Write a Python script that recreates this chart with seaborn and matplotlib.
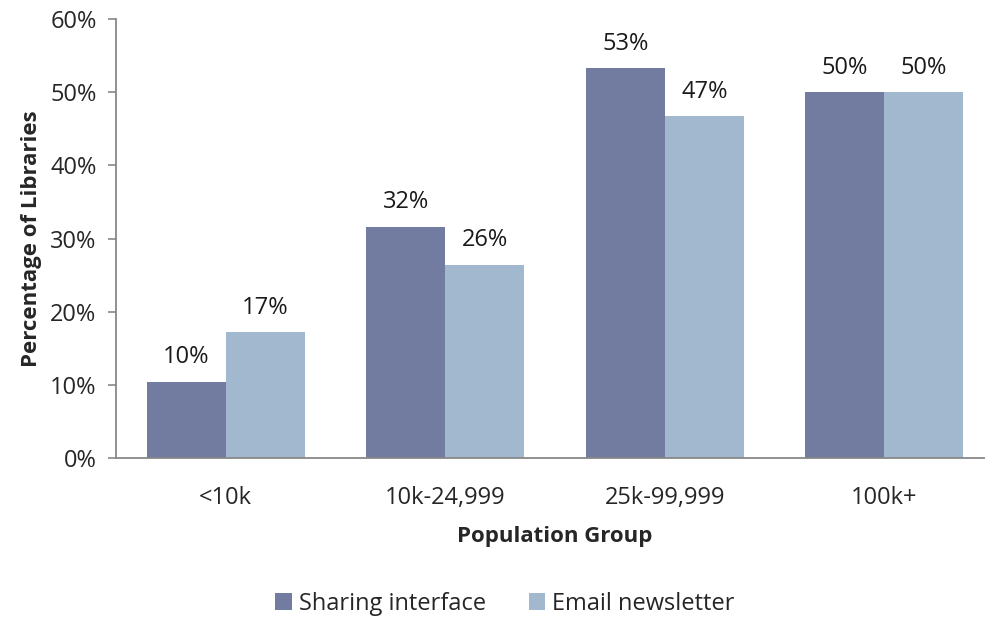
"""
Percentage of libraries by population group: sharing interface vs email newsletter
"""

import pandas as pd
import matplotlib.pyplot as plt
import seaborn as sns

# Data
groups = ['<10k', '10k-24,999', '25k-99,999', '100k+']
sharing_interface = [10.4, 31.6, 53.3, 50.0]
email_newsletter = [17.2, 26.4, 46.7, 50.0]
series_names = ['Sharing interface', 'Email newsletter']
bar_colors = ['#727BA0', '#A2B8CF']

df = pd.DataFrame({
    'group': groups * 2,
    'value': sharing_interface + email_newsletter,
    'series': [series_names[0]] * 4 + [series_names[1]] * 4,
})

sns.set_style("white")
plt.rcParams['font.family'] = ['Open Sans', 'DejaVu Sans']
FS = 17

fig = plt.figure(figsize=(9.85, 6.2), dpi=100)
ax = fig.add_axes([116 / 985, 1 - 458 / 620, 878 / 985, (458 - 19) / 620])

sns.barplot(data=df, x='group', y='value', hue='series', order=groups,
            hue_order=series_names, palette=bar_colors, width=0.72,
            saturation=1, linewidth=0, ax=ax)

# value labels above bars
for container in ax.containers:
    for bar in container:
        h = bar.get_height()
        ax.annotate(f'{h:.0f}%', (bar.get_x() + bar.get_width() / 2, h),
                    xytext=(0, 9), textcoords='offset points',
                    ha='center', va='bottom', fontsize=FS, color='#1a1a1a')

ax.set_xlim(-0.5, 3.5)
ax.set_ylim(0, 60)
ax.set_yticks(range(0, 61, 10))
ax.set_yticklabels([f'{v}%' for v in range(0, 61, 10)], fontsize=FS)
ax.set_xticks(range(len(groups)))
ax.set_xticklabels(groups, fontsize=FS)
ax.set_xticks([-0.5, 0.5, 1.5, 2.5], minor=True)
ax.tick_params(axis='x', which='major', length=0, pad=20)
ax.tick_params(axis='x', which='minor', length=6, color='#888888', width=1.2)
ax.tick_params(axis='y', length=6, color='#888888', width=1.2, pad=8, left=True)

for side in ['top', 'right']:
    ax.spines[side].set_visible(False)
for side in ['left', 'bottom']:
    ax.spines[side].set_color('#888888')
    ax.spines[side].set_linewidth(1.3)

ax.set_xlabel('Population Group', fontsize=16, fontweight='bold', labelpad=12)
ax.set_ylabel('Percentage of Libraries', fontsize=16, fontweight='bold', labelpad=6)

ax.legend(loc='center', bbox_to_anchor=(505 / 985, 1 - 604 / 620),
          bbox_transform=fig.transFigure, ncol=2, frameon=False,
          fontsize=FS, handlelength=0.7, handleheight=0.7,
          handletextpad=0.3, columnspacing=1.8)

fig.savefig('out.png', dpi=100)
plt.close(fig)
